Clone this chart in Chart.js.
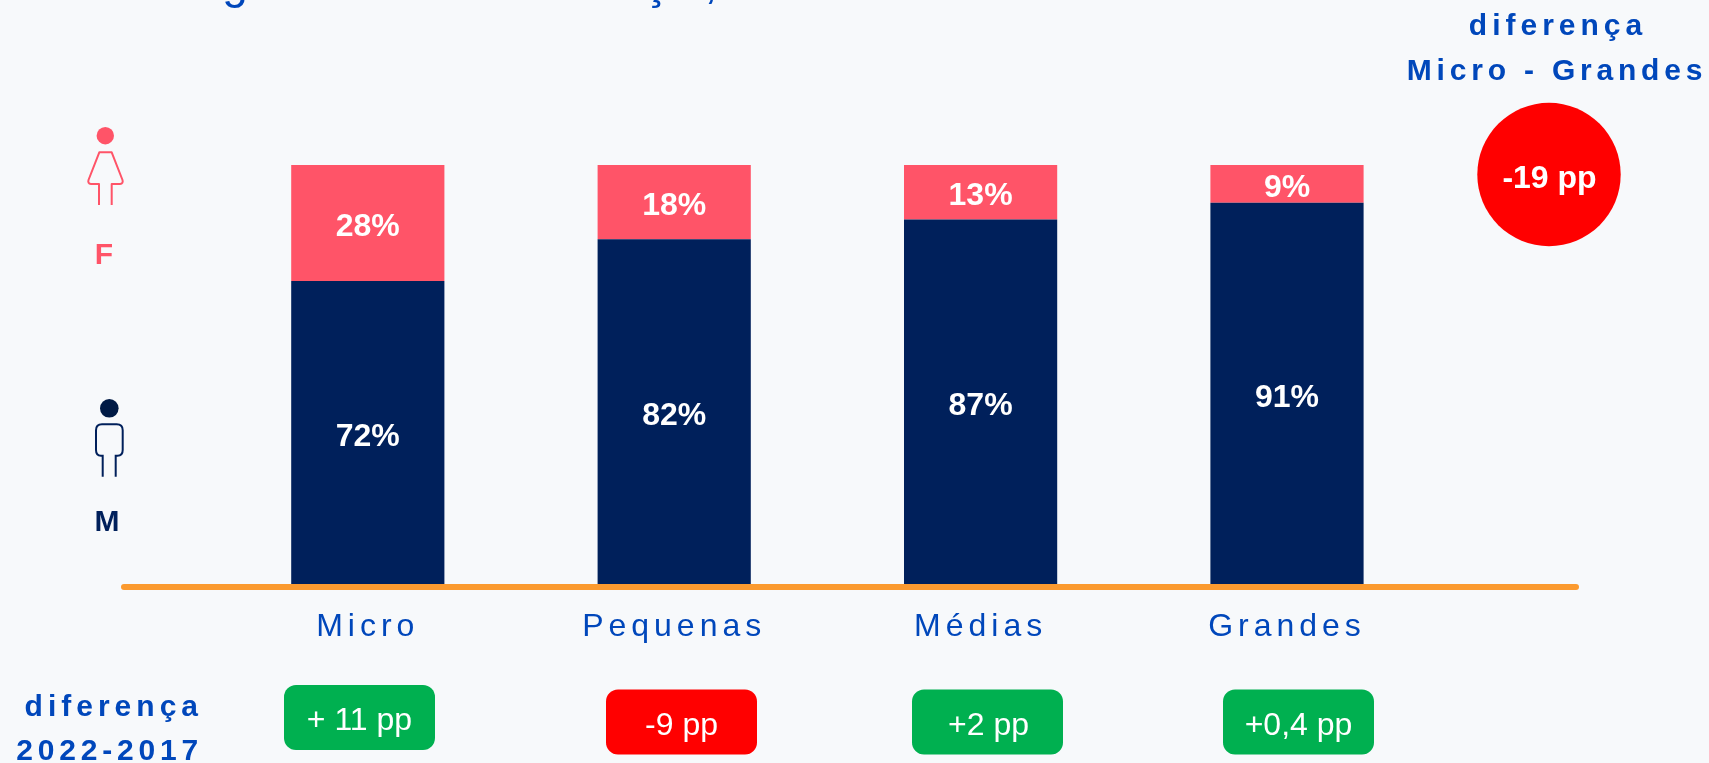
<!DOCTYPE html>
<html>
<head>
<meta charset="utf-8">
<title>Diferença por porte</title>
<script src="https://cdn.jsdelivr.net/npm/chart.js@4"></script>
<style>
    html, body { margin: 0; padding: 0; background: #f7f9fb; overflow: hidden; }
    canvas { display: block; }
</style>
</head>
<body>
<canvas id="grafico" width="1709" height="763"></canvas>
<script>
const categorias = ['Micro', 'Pequenas', 'Médias', 'Grandes'];
const masculino = [72.4, 82.3, 87, 91];
const feminino = [27.6, 17.7, 13, 9];
const diferencas = ['+ 11 pp', '-9 pp', '+2 pp', '+0,4 pp'];
const diferencasPositivas = [true, false, true, true];

const AZUL = '#0047bb';
const MARINHO = '#00205b';
const ROSA = '#ff5468';
const VERDE = '#00b050';
const VERMELHO = '#ff0000';
const LARANJA = '#fb9a2f';
const FONTE = '"Liberation Sans", Arial, sans-serif';

function texto(ctx, str, x, y, font, cor, align, spacing) {
    ctx.save();
    ctx.font = font + ' ' + FONTE;
    ctx.fillStyle = cor;
    ctx.textAlign = align || 'center';
    ctx.textBaseline = 'alphabetic';
    ctx.letterSpacing = spacing || '0px';
    ctx.fillText(str, x, y);
    ctx.restore();
}

function caixa(ctx, x, y, w, h, r, cor) {
    ctx.fillStyle = cor;
    ctx.beginPath();
    ctx.roundRect(x, y, w, h, r);
    ctx.fill();
}

// Bonecos da esquerda
function iconeFeminino(ctx) {
    ctx.save();
    ctx.fillStyle = ROSA;
    ctx.strokeStyle = ROSA;
    ctx.lineWidth = 2;
    ctx.lineJoin = 'round';
    ctx.beginPath();
    ctx.arc(105.3, 135.7, 8.7, 0, Math.PI * 2);
    ctx.fill();
    ctx.beginPath();
    ctx.moveTo(99, 205);
    ctx.lineTo(99, 184);
    ctx.lineTo(91, 184);
    ctx.quadraticCurveTo(87.5, 183.5, 88.5, 180);
    ctx.lineTo(99.3, 152.3);
    ctx.lineTo(111.7, 152.3);
    ctx.lineTo(122.5, 180);
    ctx.quadraticCurveTo(123.5, 183.5, 120, 184);
    ctx.lineTo(111.7, 184);
    ctx.lineTo(111.7, 205);
    ctx.stroke();
    ctx.restore();
}

function iconeMasculino(ctx) {
    ctx.save();
    ctx.fillStyle = '#001a45';
    ctx.strokeStyle = MARINHO;
    ctx.lineWidth = 2;
    ctx.beginPath();
    ctx.arc(109.3, 408.3, 9.3, 0, Math.PI * 2);
    ctx.fill();
    ctx.beginPath();
    ctx.moveTo(102.7, 476.7);
    ctx.lineTo(102.7, 455.7);
    ctx.lineTo(101, 455.7);
    ctx.quadraticCurveTo(96, 455.7, 96, 450);
    ctx.lineTo(96, 430.3);
    ctx.quadraticCurveTo(96, 424.3, 102, 424.3);
    ctx.lineTo(116.7, 424.3);
    ctx.quadraticCurveTo(122.7, 424.3, 122.7, 430.3);
    ctx.lineTo(122.7, 450);
    ctx.quadraticCurveTo(122.7, 455.7, 117.5, 455.7);
    ctx.lineTo(115.7, 455.7);
    ctx.lineTo(115.7, 476.7);
    ctx.stroke();
    ctx.restore();
}

const extras = {
    id: 'extras',
    beforeDraw(chart) {
        // vale para os rótulos do eixo x
        chart.ctx.letterSpacing = '5px';
    },
    afterDatasetsDraw(chart) {
        const ctx = chart.ctx;
        const x = chart.scales.x;
        const y = chart.scales.y;

        // linha de base
        ctx.save();
        ctx.strokeStyle = LARANJA;
        ctx.lineWidth = 6;
        ctx.lineCap = 'round';
        ctx.beginPath();
        ctx.moveTo(124, y.getPixelForValue(0) + 2);
        ctx.lineTo(1576, y.getPixelForValue(0) + 2);
        ctx.stroke();
        ctx.restore();

        // valores dentro das barras
        categorias.forEach((c, i) => {
            const cx = x.getPixelForValue(i);
            const meioM = y.getPixelForValue(masculino[i] / 2);
            const meioF = y.getPixelForValue(masculino[i] + feminino[i] / 2);
            texto(ctx, Math.round(masculino[i]) + '%', cx, meioM + 13, 'bold 32px', '#ffffff');
            texto(ctx, Math.round(feminino[i]) + '%', cx, meioF + 13, 'bold 32px', '#ffffff');
        });
    },
    afterDraw(chart) {
        const ctx = chart.ctx;
        ctx.letterSpacing = '0px';

        // pedaços do título, cortado no topo da imagem
        texto(ctx, 'g', 235, -2, '46px', AZUL);
        texto(ctx, 'ç', 655, -2, '46px', AZUL);
        texto(ctx, ',', 711, -2, '46px', AZUL);

        // diferença Micro - Grandes
        texto(ctx, 'diferença', 1558, 35, 'bold 30px', AZUL, 'center', '5px');
        texto(ctx, 'Micro - Grandes', 1557, 80, 'bold 30px', AZUL, 'center', '4.8px');
        ctx.fillStyle = VERMELHO;
        ctx.beginPath();
        ctx.arc(1549, 174.5, 71.7, 0, Math.PI * 2);
        ctx.fill();
        texto(ctx, '-19 pp', 1549.5, 188, 'bold 32px', '#ffffff');

        // legenda com bonecos
        iconeFeminino(ctx);
        texto(ctx, 'F', 104, 263.5, 'bold 30px', ROSA);
        iconeMasculino(ctx);
        texto(ctx, 'M', 107, 531, 'bold 30px', MARINHO);

        // diferença 2022-2017
        texto(ctx, 'diferença', 203, 716, 'bold 30px', AZUL, 'right', '5px');
        texto(ctx, '2022-2017', 203, 760, 'bold 30px', AZUL, 'right', '4.8px');
        const caixasX = [284, 606, 912, 1223];
        const caixasY = [685, 689.5, 689.5, 689.5];
        diferencas.forEach((d, i) => {
            const cor = diferencasPositivas[i] ? VERDE : VERMELHO;
            caixa(ctx, caixasX[i], caixasY[i], 151, 65, 12, cor);
            const ajuste = i === 0 ? 45 : 45.5;
            texto(ctx, d, caixasX[i] + 75.5 + (i === 2 ? 1 : 0), caixasY[i] + ajuste, '32px', '#ffffff');
        });
    }
};

new Chart(document.getElementById('grafico').getContext('2d'), {
    type: 'bar',
    data: {
        labels: categorias,
        datasets: [
            { label: 'M', data: masculino, backgroundColor: MARINHO, barPercentage: 0.5, categoryPercentage: 1 },
            { label: 'F', data: feminino, backgroundColor: ROSA, barPercentage: 0.5, categoryPercentage: 1 }
        ]
    },
    options: {
        responsive: false,
        animation: false,
        layout: { padding: { left: 214.6, right: 268.8, top: 165, bottom: 0 } },
        plugins: { legend: { display: false }, tooltip: { enabled: false } },
        scales: {
            x: {
                stacked: true,
                grid: { display: false },
                border: { display: false },
                ticks: {
                    color: AZUL,
                    font: { family: FONTE, size: 32 },
                    padding: 15,
                    maxRotation: 0
                },
                afterFit(scale) { scale.height = 178; }
            },
            y: {
                display: false,
                stacked: true,
                min: 0,
                max: 100
            }
        }
    },
    plugins: [extras]
});
</script>
</body>
</html>
